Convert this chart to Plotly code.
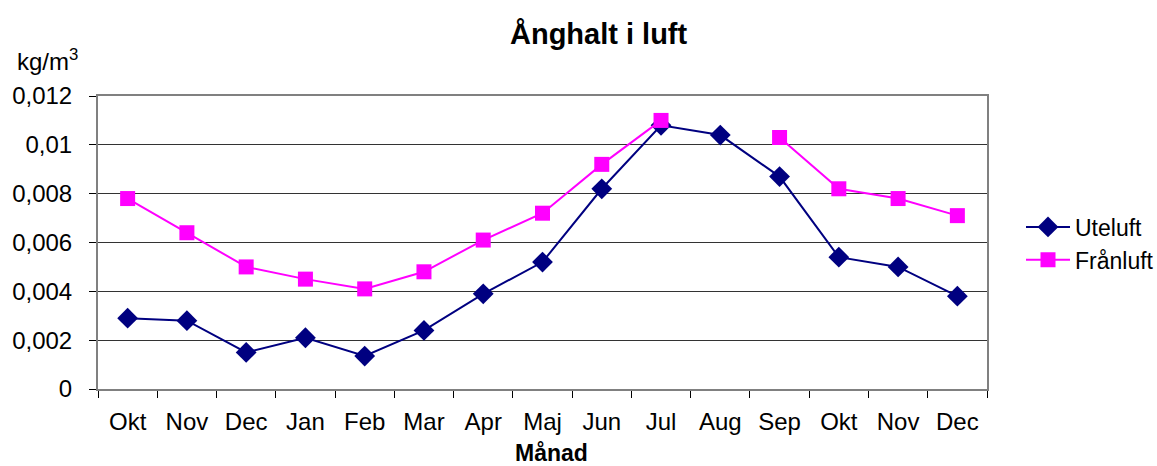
import plotly.graph_objects as go

months = ["Okt", "Nov", "Dec", "Jan", "Feb", "Mar", "Apr", "Maj", "Jun", "Jul", "Aug", "Sep", "Okt", "Nov", "Dec"]
uteluft = [0.0029, 0.0028, 0.0015, 0.0021, 0.00135, 0.0024, 0.0039, 0.0052, 0.0082, 0.0108, 0.0104, 0.0087, 0.0054, 0.0050, 0.0038]
franluft = [0.0078, 0.0064, 0.0050, 0.0045, 0.0041, 0.0048, 0.0061, 0.0072, 0.0092, 0.0110, None, 0.0103, 0.0082, 0.0078, 0.0071]
ytick_vals = [0, 0.002, 0.004, 0.006, 0.008, 0.010, 0.012]
ytick_text = ["0", "0,002", "0,004", "0,006", "0,008", "0,01", "0,012"]

xpos = list(range(len(months)))
FONT = "Liberation Sans, Arial, sans-serif"

L, R, T, B = 95, 987, 96, 389
def px(x):
    return (x - L) / (R - L)
def py(y):
    return (B - y) / (B - T)

fig = go.Figure()
fig.add_trace(go.Scatter(
    x=xpos, y=uteluft, name="Uteluft", mode="lines+markers",
    line=dict(color="#000080", width=2),
    marker=dict(symbol="diamond", size=16, color="#000080"),
))
fig.add_trace(go.Scatter(
    x=xpos, y=franluft, name="Frånluft", mode="lines+markers",
    line=dict(color="#FF00FF", width=2),
    marker=dict(symbol="square", size=15, color="#FF00FF"),
    connectgaps=False,
))

fig.update_layout(
    width=1157, height=466,
    margin=dict(l=L, r=1157 - R, t=T, b=466 - B),
    paper_bgcolor="white", plot_bgcolor="white",
    font=dict(family=FONT, size=24, color="black"),
    showlegend=True,
    legend=dict(
        xref="container", yref="container",
        x=1021 / 1157, y=1 - 243.5 / 466, xanchor="left", yanchor="middle",
        font=dict(size=23), bgcolor="rgba(0,0,0,0)", tracegroupgap=0,
        itemwidth=44,
    ),
    annotations=[
        dict(text="<b>Ånghalt i luft</b>", xref="paper", yref="paper",
             x=px(598), y=py(34), xanchor="center", yanchor="middle",
             showarrow=False, font=dict(size=29, family=FONT)),
        dict(text="kg/m<sup>3</sup>", xref="paper", yref="paper",
             x=px(12), y=py(60), xanchor="left", yanchor="middle",
             showarrow=False, font=dict(size=24, family=FONT)),
        dict(text="<b>Månad</b>", xref="paper", yref="paper",
             x=px(550), y=py(453), xanchor="center", yanchor="middle",
             showarrow=False, font=dict(size=23, family=FONT)),
    ],
)

fig.update_xaxes(
    range=[-0.5, len(months) - 0.5],
    tickmode="array", tickvals=xpos, ticktext=months,
    ticks="", showgrid=False, zeroline=False,
    showline=True, linecolor="#808080", linewidth=2, mirror=True,
    minor=dict(tickmode="linear", tick0=-0.5, dtick=1, ticks="outside",
               ticklen=7, tickwidth=1, tickcolor="black", showgrid=False),
    tickfont=dict(size=24),
    ticklabelstandoff=10,
)
fig.update_yaxes(
    range=[0, 0.012],
    tickmode="array", tickvals=ytick_vals, ticktext=ytick_text,
    ticks="outside", ticklen=7, tickwidth=1, tickcolor="black",
    showgrid=True, gridcolor="#333333", gridwidth=1, zeroline=False,
    showline=True, linecolor="#808080", linewidth=2, mirror=True,
    ticklabelstandoff=12,
    tickfont=dict(size=24),
)

fig.write_html("out.html", config={"displayModeBar": False},
               post_script="document.body.style.margin='0';")
